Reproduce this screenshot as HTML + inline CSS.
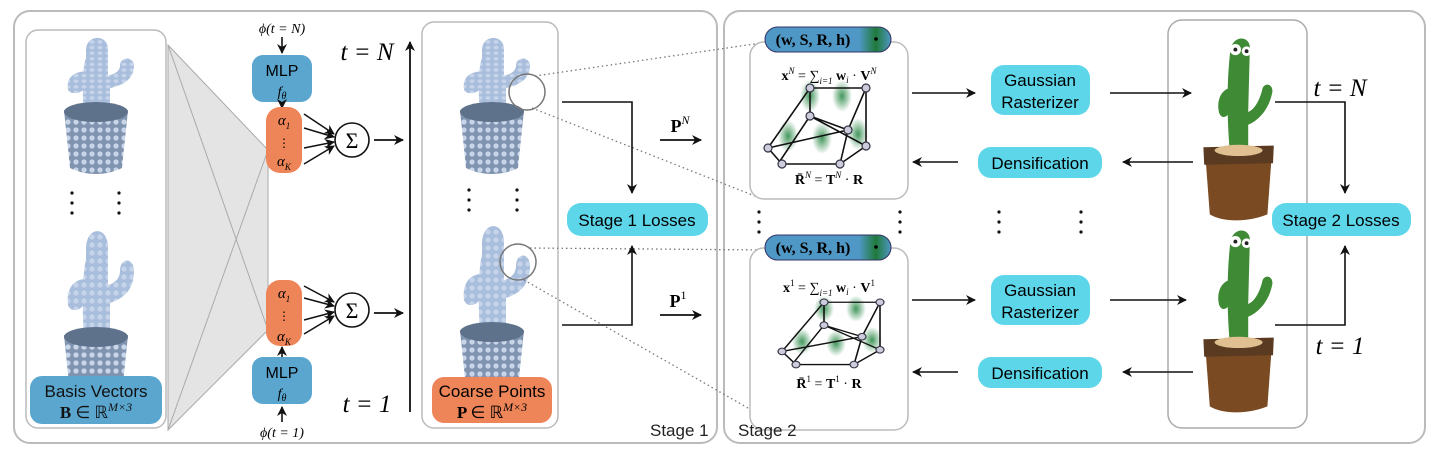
<!DOCTYPE html>
<html><head><meta charset="utf-8"><style>
body{margin:0;background:#fff}
svg{display:block}
text{font-family:"Liberation Sans",sans-serif}
.m{font-family:"Liberation Serif",serif}
</style></head><body>
<svg width="1439" height="458" viewBox="0 0 1439 458" xmlns="http://www.w3.org/2000/svg">
<defs>
<marker id="a" markerWidth="10" markerHeight="10" refX="9" refY="5" orient="auto" markerUnits="userSpaceOnUse"><path d="M0,0 L10,5 L0,10 L3,5 Z" fill="#111"/></marker>
<radialGradient id="g"><stop offset="0" stop-color="#2e8b4a" stop-opacity=".9"/><stop offset="1" stop-color="#2e8b4a" stop-opacity="0"/></radialGradient>
<linearGradient id="pg" x1="0" x2="1"><stop offset=".75" stop-color="#4f97c4"/><stop offset=".88" stop-color="#1f7a3a"/><stop offset="1" stop-color="#4f97c4"/></linearGradient>
<pattern id="dots" width="8" height="8" patternUnits="userSpaceOnUse"><rect width="8" height="8" fill="#8094b0"/><circle cx="4" cy="4" r="2.6" fill="#c9d6ea"/></pattern>
<pattern id="dl" width="8" height="8" patternUnits="userSpaceOnUse"><rect width="8" height="8" fill="#a9bedc"/><circle cx="4" cy="4" r="2.6" fill="#c6d4ea"/></pattern>
<g id="cb">
<path d="M-12,0 C-14,-30 -14,-60 -10,-78 L-10,-88 C-10,-110 10,-112 12,-92 L12,-52 C20,-54 24,-60 24,-66 C24,-80 38,-80 38,-66 C38,-46 26,-38 14,-34 L14,0 Z" fill="url(#dl)"/>
<path d="M-10,-58 C-24,-58 -30,-46 -28,-32 C-26,-24 -14,-26 -12,-34 Z" fill="url(#dl)"/>
</g>
<g id="pt">
<path d="M-32,0 L32,0 L26,58 C10,66 -10,66 -26,58 Z" fill="url(#dots)"/>
<ellipse cx="0" cy="2" rx="32" ry="10" fill="#5f728c"/>
</g>
<g id="cc">
<path d="M-8,40 C-12,0 -14,-50 -8,-100 C-2,-118 18,-114 16,-98 L14,-20 C24,-24 30,-40 32,-50 C36,-58 46,-54 44,-44 C40,-24 28,-10 14,-4 L14,40 Z" fill="#3f8a34"/>
<path d="M-8,-50 C-22,-48 -26,-30 -22,-18 C-18,-10 -10,-14 -8,-24 Z" fill="#3f8a34"/>
<circle cx="-2" cy="-98" r="7" fill="#fff"/><circle cx="12" cy="-96" r="6" fill="#fff"/>
<circle cx="-2" cy="-98" r="2.4" fill="#222"/><circle cx="12" cy="-96" r="2.4" fill="#222"/>
<path d="M-40,28 L44,26 L38,108 C14,118 -18,118 -34,108 Z" fill="#7a4a22"/>
<path d="M-42,24 L46,22 L45,44 L-41,46 Z" fill="#5a3a20"/>
<ellipse cx="2" cy="28" rx="30" ry="7" fill="#e0c090"/>
</g>
<g id="mesh" stroke="#111" stroke-width="1.6" fill="none">
<ellipse cx="72" cy="40" rx="10" ry="16" fill="url(#g)" stroke="none"/>
<ellipse cx="104" cy="40" rx="10" ry="16" fill="url(#g)" stroke="none"/>
<ellipse cx="50" cy="80" rx="10" ry="16" fill="url(#g)" stroke="none"/>
<ellipse cx="84" cy="82" rx="10" ry="16" fill="url(#g)" stroke="none"/>
<ellipse cx="120" cy="78" rx="10" ry="16" fill="url(#g)" stroke="none"/>
<path d="M30,92 L72,32 L128,32 L128,90 M30,92 L44,108 L102,108 L128,90 M72,32 L72,60 L40,108 M72,60 L110,74 L102,108 M110,74 L128,32 M30,92 L110,74 M72,60 L128,90"/>
<g fill="#ccd" stroke="#334" stroke-width="1.2">
<circle cx="72" cy="32" r="4"/><circle cx="128" cy="32" r="4"/><circle cx="30" cy="92" r="4"/><circle cx="128" cy="90" r="4"/><circle cx="44" cy="108" r="4"/><circle cx="102" cy="108" r="4"/><circle cx="72" cy="60" r="4"/><circle cx="110" cy="74" r="4"/></g>
</g>
</defs>

<rect x="14" y="11" width="703" height="432" rx="16" fill="none" stroke="#bbb" stroke-width="2"/>
<rect x="724" y="11" width="701" height="432" rx="16" fill="none" stroke="#bbb" stroke-width="2"/>

<polygon points="168,45 268,150 268,330 168,430" fill="#e4e4e4"/>
<polygon points="168,45 268,150 268,330 168,430" fill="none" stroke="#aaa" stroke-width="1"/>
<line x1="168" y1="45" x2="268" y2="330" stroke="#aaa"/>
<line x1="168" y1="430" x2="268" y2="150" stroke="#aaa"/>

<rect x="26" y="30" width="140" height="398" rx="12" fill="#fff" stroke="#bbb" stroke-width="1.5"/>
<use href="#cb" transform="translate(96,112) scale(1,0.7)"/>
<use href="#pt" transform="translate(96,110)"/>
<use href="#cb" transform="translate(96,337)"/>
<use href="#pt" transform="translate(96,335)"/>
<g fill="#111"><circle cx="72" cy="193" r="1.6"/><circle cx="72" cy="203" r="1.6"/><circle cx="72" cy="213" r="1.6"/><circle cx="119" cy="193" r="1.6"/><circle cx="119" cy="203" r="1.6"/><circle cx="119" cy="213" r="1.6"/></g>
<rect x="30" y="376" width="132" height="48" rx="12" fill="#5aa6cf"/>
<text x="96" y="397" text-anchor="middle" font-size="17" fill="#111">Basis Vectors</text>
<text x="96" y="418" text-anchor="middle" font-size="17" class="m" font-weight="bold" fill="#111">B <tspan font-weight="normal">∈ ℝ</tspan><tspan font-size="12" dy="-7" font-style="italic" font-weight="normal">M×3</tspan></text>

<text x="282" y="33" text-anchor="middle" font-size="14" class="m" font-style="italic">ϕ(t = N)</text>
<line x1="282" y1="37" x2="282" y2="53" stroke="#111" stroke-width="1.6" marker-end="url(#a)"/>
<rect x="252" y="55" width="60" height="47" rx="11" fill="#5aa6cf"/>
<text x="282" y="76" text-anchor="middle" font-size="16">MLP</text>
<text x="282" y="96" text-anchor="middle" font-size="14" class="m" font-style="italic">f<tspan font-size="10" dy="3">θ</tspan></text>
<line x1="282" y1="102" x2="282" y2="108" stroke="#111" stroke-width="1.6" marker-end="url(#a)"/>
<rect x="266" y="107" width="36" height="66" rx="14" fill="#ee8558"/>
<text x="284" y="125" text-anchor="middle" font-size="15" class="m" font-style="italic">α<tspan font-size="9" dy="4">1</tspan></text>
<text x="284" y="147" text-anchor="middle" font-size="12" class="m">⋮</text>
<text x="284" y="166" text-anchor="middle" font-size="15" class="m" font-style="italic">α<tspan font-size="9" dy="4">K</tspan></text>
<g stroke="#111" stroke-width="1.5" marker-end="url(#a)">
<line x1="304" y1="114" x2="334" y2="134"/><line x1="304" y1="128" x2="334" y2="137"/><line x1="304" y1="148" x2="334" y2="142"/><line x1="304" y1="164" x2="334" y2="146"/></g>
<circle cx="352" cy="140" r="17" fill="#fff" stroke="#111" stroke-width="1.6"/>
<text x="352" y="148" text-anchor="middle" font-size="22" class="m">Σ</text>
<line x1="374" y1="140" x2="403" y2="140" stroke="#111" stroke-width="1.8" marker-end="url(#a)"/>

<rect x="266" y="280" width="36" height="66" rx="14" fill="#ee8558"/>
<text x="284" y="298" text-anchor="middle" font-size="15" class="m" font-style="italic">α<tspan font-size="9" dy="4">1</tspan></text>
<text x="284" y="320" text-anchor="middle" font-size="12" class="m">⋮</text>
<text x="284" y="341" text-anchor="middle" font-size="15" class="m" font-style="italic">α<tspan font-size="9" dy="4">K</tspan></text>
<g stroke="#111" stroke-width="1.5" marker-end="url(#a)">
<line x1="304" y1="286" x2="334" y2="302"/><line x1="304" y1="298" x2="334" y2="306"/><line x1="304" y1="320" x2="334" y2="312"/><line x1="304" y1="334" x2="334" y2="316"/></g>
<circle cx="352" cy="310" r="17" fill="#fff" stroke="#111" stroke-width="1.6"/>
<text x="352" y="318" text-anchor="middle" font-size="22" class="m">Σ</text>
<line x1="374" y1="313" x2="403" y2="313" stroke="#111" stroke-width="1.8" marker-end="url(#a)"/>
<line x1="282" y1="357" x2="282" y2="347" stroke="#111" stroke-width="1.6" marker-end="url(#a)"/>
<rect x="252" y="357" width="60" height="47" rx="11" fill="#5aa6cf"/>
<text x="282" y="378" text-anchor="middle" font-size="16">MLP</text>
<text x="282" y="398" text-anchor="middle" font-size="14" class="m" font-style="italic">f<tspan font-size="10" dy="3">θ</tspan></text>
<line x1="282" y1="422" x2="282" y2="407" stroke="#111" stroke-width="1.6" marker-end="url(#a)"/>
<text x="282" y="437" text-anchor="middle" font-size="14" class="m" font-style="italic">ϕ(t = 1)</text>

<text x="367" y="60" text-anchor="middle" font-size="25" class="m" font-style="italic">t = N</text>
<text x="367" y="412" text-anchor="middle" font-size="25" class="m" font-style="italic">t = 1</text>
<line x1="410" y1="412" x2="410" y2="42" stroke="#111" stroke-width="1.8" marker-end="url(#a)"/>

<rect x="422" y="22" width="136" height="406" rx="12" fill="#fff" stroke="#bbb" stroke-width="1.5"/>
<use href="#cb" transform="translate(492,112) scale(1,0.7)"/>
<use href="#pt" transform="translate(492,110)"/>
<use href="#cb" transform="translate(492,332)"/>
<use href="#pt" transform="translate(492,330)"/>
<g fill="#111"><circle cx="469" cy="190" r="1.6"/><circle cx="469" cy="200" r="1.6"/><circle cx="469" cy="210" r="1.6"/><circle cx="517" cy="190" r="1.6"/><circle cx="517" cy="200" r="1.6"/><circle cx="517" cy="210" r="1.6"/></g>
<circle cx="527" cy="92" r="18" fill="none" stroke="#777" stroke-width="1.5"/>
<circle cx="518" cy="262" r="18" fill="none" stroke="#777" stroke-width="1.5"/>
<rect x="432" y="377" width="120" height="46" rx="12" fill="#ee8558"/>
<text x="492" y="397" text-anchor="middle" font-size="17">Coarse Points</text>
<text x="492" y="418" text-anchor="middle" font-size="17" class="m" font-weight="bold">P <tspan font-weight="normal">∈ ℝ</tspan><tspan font-size="12" dy="-7" font-style="italic" font-weight="normal">M×3</tspan></text>

<g stroke="#777" stroke-width="1.3" stroke-dasharray="1.5,3" fill="none">
<line x1="535" y1="76" x2="768" y2="42"/><line x1="532" y1="108" x2="760" y2="198"/>
<line x1="530" y1="248" x2="768" y2="250"/><line x1="524" y1="280" x2="755" y2="412"/></g>

<polyline points="562,102 632,102 632,193" fill="none" stroke="#111" stroke-width="1.6" marker-end="url(#a)"/>
<polyline points="562,325 632,325 632,246" fill="none" stroke="#111" stroke-width="1.6" marker-end="url(#a)"/>
<rect x="567" y="203" width="141" height="33" rx="14" fill="#5dd6ea"/>
<text x="637" y="226" text-anchor="middle" font-size="17">Stage 1 Losses</text>
<text x="680" y="132" text-anchor="middle" font-size="18" class="m" font-weight="bold">P<tspan font-size="12" dy="-8" font-style="italic" font-weight="normal">N</tspan></text>
<line x1="660" y1="140" x2="701" y2="140" stroke="#111" stroke-width="1.8" marker-end="url(#a)"/>
<text x="678" y="307" text-anchor="middle" font-size="18" class="m" font-weight="bold">P<tspan font-size="12" dy="-8" font-weight="normal">1</tspan></text>
<line x1="660" y1="315" x2="701" y2="315" stroke="#111" stroke-width="1.8" marker-end="url(#a)"/>
<text x="650" y="436" font-size="17" fill="#222">Stage 1</text>

<rect x="750" y="42" width="158" height="157" rx="14" fill="#fff" stroke="#bbb" stroke-width="1.5"/>
<rect x="765" y="27" width="126" height="25" rx="12.5" fill="url(#pg)" stroke="#336" stroke-width="1"/>
<circle cx="876" cy="39" r="1.8" fill="#000"/>
<text x="813" y="45" text-anchor="middle" font-size="16" class="m" font-weight="bold">(w, S, R, h)</text>
<text x="829" y="80" text-anchor="middle" font-size="14" class="m"><tspan font-weight="bold">x</tspan><tspan font-size="9" dy="-6" font-style="italic">N</tspan><tspan dy="6"> = ∑</tspan><tspan font-size="9" dy="4" font-style="italic">i=1</tspan><tspan dy="-4"> </tspan><tspan font-weight="bold">w</tspan><tspan font-size="9" dy="3" font-style="italic">i</tspan><tspan dy="-3"> · </tspan><tspan font-weight="bold">V</tspan><tspan font-size="9" dy="-6" font-style="italic">N</tspan></text>
<use href="#mesh" transform="translate(738,56)"/>
<text x="829" y="184" text-anchor="middle" font-size="14" class="m" font-weight="bold">R̄<tspan font-size="9" dy="-6" font-style="italic" font-weight="normal">N</tspan><tspan dy="6" font-weight="normal"> = </tspan>T<tspan font-size="9" dy="-6" font-style="italic" font-weight="normal">N</tspan><tspan dy="6" font-weight="normal"> · </tspan>R</text>

<rect x="750" y="248" width="158" height="182" rx="14" fill="#fff" stroke="#bbb" stroke-width="1.5"/>
<rect x="765" y="235" width="126" height="25" rx="12.5" fill="url(#pg)" stroke="#336" stroke-width="1"/>
<circle cx="876" cy="247" r="1.8" fill="#000"/>
<text x="813" y="253" text-anchor="middle" font-size="16" class="m" font-weight="bold">(w, S, R, h)</text>
<text x="829" y="292" text-anchor="middle" font-size="14" class="m"><tspan font-weight="bold">x</tspan><tspan font-size="9" dy="-6">1</tspan><tspan dy="6"> = ∑</tspan><tspan font-size="9" dy="4" font-style="italic">i=1</tspan><tspan dy="-4"> </tspan><tspan font-weight="bold">w</tspan><tspan font-size="9" dy="3" font-style="italic">i</tspan><tspan dy="-3"> · </tspan><tspan font-weight="bold">V</tspan><tspan font-size="9" dy="-6">1</tspan></text>
<use href="#mesh" transform="translate(752,276) scale(1,0.82)"/>
<text x="829" y="388" text-anchor="middle" font-size="14" class="m" font-weight="bold">R̄<tspan font-size="9" dy="-6" font-weight="normal">1</tspan><tspan dy="6" font-weight="normal"> = </tspan>T<tspan font-size="9" dy="-6" font-weight="normal">1</tspan><tspan dy="6" font-weight="normal"> · </tspan>R</text>

<g fill="#111">
<circle cx="759" cy="212" r="1.6"/><circle cx="759" cy="222" r="1.6"/><circle cx="759" cy="232" r="1.6"/>
<circle cx="900" cy="212" r="1.6"/><circle cx="900" cy="222" r="1.6"/><circle cx="900" cy="232" r="1.6"/>
<circle cx="999" cy="212" r="1.6"/><circle cx="999" cy="222" r="1.6"/><circle cx="999" cy="232" r="1.6"/>
<circle cx="1081" cy="212" r="1.6"/><circle cx="1081" cy="222" r="1.6"/><circle cx="1081" cy="232" r="1.6"/></g>

<g font-size="17" text-anchor="middle">
<rect x="991" y="65" width="99" height="50" rx="13" fill="#5dd6ea"/>
<text x="1040" y="86">Gaussian</text><text x="1040" y="108">Rasterizer</text>
<rect x="978" y="147" width="124" height="31" rx="13" fill="#5dd6ea"/>
<text x="1040" y="169">Densification</text>
<rect x="991" y="275" width="99" height="50" rx="13" fill="#5dd6ea"/>
<text x="1040" y="296">Gaussian</text><text x="1040" y="318">Rasterizer</text>
<rect x="978" y="357" width="124" height="31" rx="13" fill="#5dd6ea"/>
<text x="1040" y="379">Densification</text>
</g>

<rect x="1168" y="20" width="139" height="408" rx="14" fill="#fff" stroke="#aaa" stroke-width="1.5"/>
<use href="#cc" transform="translate(1237,128) scale(0.8)"/>
<use href="#cc" transform="translate(1237,320) scale(0.8)"/>

<g stroke="#111" stroke-width="1.6" marker-end="url(#a)">
<line x1="912" y1="93" x2="975" y2="93"/><line x1="1110" y1="93" x2="1191" y2="93"/>
<line x1="1193" y1="162" x2="1123" y2="162"/><line x1="958" y1="162" x2="913" y2="162"/>
<line x1="912" y1="300" x2="975" y2="300"/><line x1="1110" y1="300" x2="1186" y2="300"/>
<line x1="1193" y1="372" x2="1123" y2="372"/><line x1="958" y1="372" x2="913" y2="372"/></g>

<text x="1340" y="96" text-anchor="middle" font-size="25" class="m" font-style="italic">t = N</text>
<text x="1340" y="354" text-anchor="middle" font-size="25" class="m" font-style="italic">t = 1</text>
<polyline points="1275,102 1345,102 1345,193" fill="none" stroke="#111" stroke-width="1.6" marker-end="url(#a)"/>
<polyline points="1275,325 1345,325 1345,246" fill="none" stroke="#111" stroke-width="1.6" marker-end="url(#a)"/>
<rect x="1272" y="203" width="139" height="33" rx="14" fill="#5dd6ea"/>
<text x="1341" y="226" text-anchor="middle" font-size="17">Stage 2 Losses</text>
<text x="738" y="436" font-size="17" fill="#222">Stage 2</text>
</svg>
</body></html>
